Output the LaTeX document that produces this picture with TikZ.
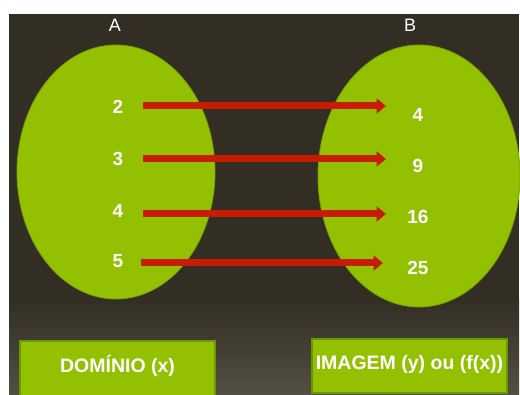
\documentclass[tikz,border=0pt]{standalone}
\usepackage{fontspec}
\setmainfont{Liberation Sans}
\usepackage{xcolor}
\usetikzlibrary{positioning, arrows.meta, shapes.geometric}

\definecolor{slidetop}{HTML}{322E23}
\definecolor{slidebottom}{HTML}{544F43}
\definecolor{setgreen}{HTML}{93C000}
\definecolor{setedge}{HTML}{7BA200}
\definecolor{boxedge}{HTML}{6A9800}
\definecolor{maparrow}{HTML}{C81C00}

\begin{document}
\begin{tikzpicture}[
    x=1pt, y=-1pt, % pixel units, y going down
    every node/.style={text=white, font=\fontsize{19}{22}\selectfont\bfseries},
    setshape/.style={ellipse, draw=setedge, fill=setgreen, line width=0.8pt, inner sep=0pt},
    mapsto/.style={draw=maparrow, line width=7pt, -{Triangle[length=9.5pt, width=15pt]}},
    namebox/.style={rectangle, draw=boxedge, fill=setgreen, line width=1.5pt,
        text height=0.716em, text depth=0pt, font=\fontsize{19.5}{22}\selectfont\bfseries}
]
    \useasboundingbox (0,0) rectangle (520,395);
    \fill[white] (0,0) rectangle (520,395);

    % slide background
    \fill[slidetop] (9,14) rectangle (519,300);
    \shade[top color=slidetop, bottom color=slidebottom] (9,299.5) rectangle (519,395);

    % the two sets
    \node[setshape, minimum width=198pt, minimum height=254pt] (setA) at (116,172) {};
    \node[setshape, minimum width=202pt, minimum height=262pt] (setB) at (419,176) {};
    \node[font=\fontsize{18}{20}\selectfont] (nameA) at (115,25) {A};
    \node[font=\fontsize{18}{20}\selectfont] (nameB) at (410,25) {B};

    % elements of A
    \node (x2) at (118,107) {2};
    \node (x3) at (118,159) {3};
    \node (x4) at (118,211) {4};
    \node (x5) at (118,261) {5};

    % elements of B
    \node (y4) at (418,115) {4};
    \node (y9) at (418,166) {9};
    \node (y16) at (418,217) {16};
    \node (y25) at (418,268) {25};

    % arrow ends
    \coordinate (from2) at (143,106);
    \coordinate (from3) at (143,159);
    \coordinate (from4) at (143,214);
    \coordinate (from5) at (141,263);
    \coordinate (to4) at (386,106);
    \coordinate (to9) at (386,159);
    \coordinate (to16) at (386,214);
    \coordinate (to25) at (383,263);

    % the mapping
    \draw[mapsto] (from2) -- (to4);
    \draw[mapsto] (from3) -- (to9);
    \draw[mapsto] (from4) -- (to16);
    \draw[mapsto] (from5) -- (to25);

    % domain and image boxes
    \node[namebox, minimum width=195pt, minimum height=56pt] (domain) at (117.5,369) {DOMÍNIO (x)};
    \node[namebox, minimum width=195pt, minimum height=54pt] (image) at (409.5,366) {IMAGEM (y) ou (f(x))};
\end{tikzpicture}
\end{document}
